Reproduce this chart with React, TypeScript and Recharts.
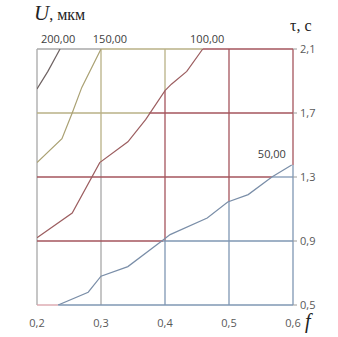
import React from "react";
import {
  LineChart,
  Line,
  XAxis,
  YAxis,
  ReferenceLine,
  ReferenceDot,
} from "recharts";

// f values are the x axis, tau (s) the y axis
const fTicks = [0.2, 0.3, 0.4, 0.5, 0.6];
const tauTicks = [0.5, 0.9, 1.3, 1.7, 2.1];

// contour lines, U in microns
const u200 = [
  { f: 0.2, t: 1.85 },
  { f: 0.217, t: 1.96 },
  { f: 0.236, t: 2.1 },
];
const u150 = [
  { f: 0.2, t: 1.39 },
  { f: 0.239, t: 1.54 },
  { f: 0.255, t: 1.7 },
  { f: 0.27, t: 1.86 },
  { f: 0.3, t: 2.1 },
];
const u100 = [
  { f: 0.2, t: 0.92 },
  { f: 0.255, t: 1.075 },
  { f: 0.298, t: 1.39 },
  { f: 0.342, t: 1.52 },
  { f: 0.37, t: 1.66 },
  { f: 0.4, t: 1.84 },
  { f: 0.41, t: 1.88 },
  { f: 0.434, t: 1.96 },
  { f: 0.459, t: 2.1 },
];
const u50 = [
  { f: 0.233, t: 0.5 },
  { f: 0.28, t: 0.58 },
  { f: 0.3, t: 0.68 },
  { f: 0.342, t: 0.74 },
  { f: 0.397, t: 0.906 },
  { f: 0.408, t: 0.94 },
  { f: 0.466, t: 1.044 },
  { f: 0.498, t: 1.144 },
  { f: 0.53, t: 1.19 },
  { f: 0.567, t: 1.3 },
  { f: 0.598, t: 1.375 },
];

const curveLabels = [
  { f: 0.233, t: 2.1, text: "200,00" },
  { f: 0.314, t: 2.1, text: "150,00" },
  { f: 0.466, t: 2.1, text: "100,00" },
  { f: 0.567, t: 1.38, text: "50,00" },
];

const GRAY = "#a8a8a8";
const OLIVE = "#b8b186";
const RED = "#a5545c";
const BLUE = "#7f97b3";

// grid pieces, coloured by the band they fall in
const gridSegments = [
  // verticals
  { x1: 0.2, y1: 0.5, x2: 0.2, y2: 2.1, c: GRAY },
  { x1: 0.3, y1: 1.39, x2: 0.3, y2: 2.1, c: OLIVE },
  { x1: 0.3, y1: 0.5, x2: 0.3, y2: 1.39, c: GRAY },
  { x1: 0.4, y1: 1.84, x2: 0.4, y2: 2.1, c: OLIVE },
  { x1: 0.4, y1: 0.9, x2: 0.4, y2: 1.84, c: RED },
  { x1: 0.4, y1: 0.5, x2: 0.4, y2: 0.9, c: BLUE },
  { x1: 0.5, y1: 1.144, x2: 0.5, y2: 2.1, c: RED },
  { x1: 0.5, y1: 0.5, x2: 0.5, y2: 1.144, c: BLUE },
  { x1: 0.6, y1: 1.375, x2: 0.6, y2: 2.1, c: RED },
  { x1: 0.6, y1: 0.5, x2: 0.6, y2: 1.375, c: BLUE },
  // horizontals
  { x1: 0.2, y1: 2.1, x2: 0.3, y2: 2.1, c: GRAY },
  { x1: 0.3, y1: 2.1, x2: 0.459, y2: 2.1, c: OLIVE },
  { x1: 0.459, y1: 2.1, x2: 0.6, y2: 2.1, c: RED },
  { x1: 0.2, y1: 1.7, x2: 0.375, y2: 1.7, c: OLIVE },
  { x1: 0.375, y1: 1.7, x2: 0.6, y2: 1.7, c: RED },
  { x1: 0.2, y1: 1.3, x2: 0.567, y2: 1.3, c: RED },
  { x1: 0.567, y1: 1.3, x2: 0.6, y2: 1.3, c: BLUE },
  { x1: 0.2, y1: 0.9, x2: 0.397, y2: 0.9, c: RED },
  { x1: 0.397, y1: 0.9, x2: 0.6, y2: 0.9, c: BLUE },
  { x1: 0.2, y1: 0.5, x2: 0.233, y2: 0.5, c: "#d9a0a8" },
  { x1: 0.233, y1: 0.5, x2: 0.6, y2: 0.5, c: BLUE },
];

const fmt = (v: number) => v.toFixed(1).replace(".", ",");
const tickFont = { fontFamily: "'Open Sans', sans-serif", fontSize: 11, fill: "#595959" };

export default function App() {
  return (
    <div style={{ position: "absolute", left: 0, top: 0, width: 338, height: 337, background: "#fff" }}>
      <LineChart
        width={338}
        height={337}
        margin={{ top: 49, right: 13, bottom: 12, left: 37 }}
      >
        <XAxis
          type="number"
          dataKey="f"
          domain={[0.2, 0.6]}
          ticks={fTicks}
          tickFormatter={fmt}
          axisLine={false}
          tickLine={false}
          tickMargin={8}
          height={20}
          tick={tickFont}
          allowDataOverflow
        />
        <YAxis
          type="number"
          dataKey="t"
          orientation="right"
          domain={[0.5, 2.1]}
          ticks={tauTicks}
          tickFormatter={fmt}
          axisLine={false}
          tickLine={{ stroke: "#9a9a9a" }}
          tickSize={4}
          tickMargin={3}
          width={32}
          tick={{ ...tickFont, textAnchor: "start" }}
          allowDataOverflow
        />
        {gridSegments.map((s, i) => (
          <ReferenceLine
            key={i}
            segment={[
              { x: s.x1, y: s.y1 },
              { x: s.x2, y: s.y2 },
            ]}
            stroke={s.c}
            strokeWidth={1.3}
            ifOverflow="visible"
          />
        ))}
        <Line data={u200} dataKey="t" stroke="#6e6262" strokeWidth={1.2} dot={false} isAnimationActive={false} />
        <Line data={u150} dataKey="t" stroke="#aaa173" strokeWidth={1.2} dot={false} isAnimationActive={false} />
        <Line data={u100} dataKey="t" stroke="#9c5e60" strokeWidth={1.2} dot={false} isAnimationActive={false} />
        <Line data={u50} dataKey="t" stroke="#7a8ea8" strokeWidth={1.2} dot={false} isAnimationActive={false} />
        {curveLabels.map((l) => (
          <ReferenceDot
            key={l.text}
            x={l.f}
            y={l.t}
            r={0}
            ifOverflow="visible"
            label={{ value: l.text, position: "top", offset: 6, fill: "#404040", fontSize: 11, fontFamily: "'Open Sans', sans-serif" }}
          />
        ))}
      </LineChart>
      <div style={{ position: "absolute", left: 34, top: 1, fontFamily: "'Liberation Serif', serif", color: "#222", whiteSpace: "nowrap" }}>
        <span style={{ fontStyle: "italic", fontSize: 21 }}>U</span>
        <span style={{ fontSize: 16 }}>, мкм</span>
      </div>
      <div style={{ position: "absolute", left: 290, top: 17, fontFamily: "'Liberation Serif', serif", fontSize: 16, color: "#222", whiteSpace: "nowrap" }}>
        τ, с
      </div>
      <div style={{ position: "absolute", left: 305, top: 310, fontFamily: "'Liberation Serif', serif", fontStyle: "italic", fontSize: 20, color: "#222" }}>
        f
      </div>
    </div>
  );
}
